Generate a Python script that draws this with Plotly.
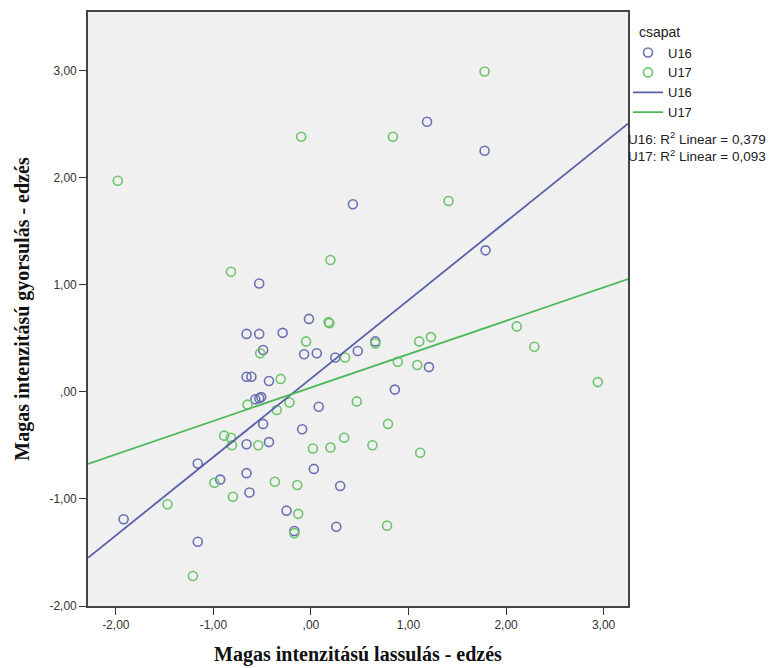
import numpy as np
import plotly.graph_objects as go

# ---- data ----
u16_x = [-0.53, -0.66, -0.53, -0.29, -0.02, -0.07, 0.06, 0.25, 0.48, -0.49,
         -0.66, -0.61, -0.43, -0.57, -0.53, -0.51, 0.08, -0.49, -0.09, -0.43,
         -0.66, -1.16, 0.03, -0.66, -0.93, 0.30, -0.63, -1.92, -0.25, -0.17,
         0.26, -1.16, 0.66, 1.21, 0.86, 0.43, 1.19, 1.78, 1.79]
u16_y = [1.01, 0.54, 0.54, 0.55, 0.68, 0.35, 0.36, 0.32, 0.38, 0.39,
         0.14, 0.14, 0.10, -0.07, -0.06, -0.05, -0.14, -0.30, -0.35, -0.47,
         -0.49, -0.67, -0.72, -0.76, -0.82, -0.88, -0.94, -1.19, -1.11, -1.30,
         -1.26, -1.40, 0.47, 0.23, 0.02, 1.75, 2.52, 2.25, 1.32]

u17_x = [0.18, 0.19, -0.05, 0.35, -0.52, -0.31, -0.65, -0.35, -0.22, 0.47,
         -0.89, -0.82, -0.81, -0.54, 0.02, 0.20, 0.34, -0.99, -0.37, -0.14,
         -0.80, -1.47, -0.13, -0.17, -1.21, 0.66, 1.11, 1.23, 0.89, 1.09,
         2.11, 2.29, 2.94, 0.79, 0.63, 1.12, 0.78, -1.98, -0.10, -0.82,
         0.20, 1.78, 0.84, 1.41]
u17_y = [0.65, 0.64, 0.47, 0.32, 0.36, 0.12, -0.12, -0.17, -0.10, -0.09,
         -0.41, -0.43, -0.50, -0.50, -0.53, -0.52, -0.43, -0.85, -0.84, -0.87,
         -0.98, -1.05, -1.14, -1.32, -1.72, 0.45, 0.47, 0.51, 0.28, 0.25,
         0.61, 0.42, 0.09, -0.30, -0.50, -0.57, -1.25, 1.97, 2.38, 1.12,
         1.23, 2.99, 2.38, 1.78]

groups = ["U16", "U17"]
legend_title = "csapat"
r2_values = ["0,379", "0,093"]
tick_vals = [-2, -1, 0, 1, 2, 3]
x_tick_text = ["-2,00", "-1,00", ",00", "1,00", "2,00", "3,00"]
y_tick_text = ["-2,00", "-1,00", ",00", "1,00", "2,00", "3,00"]

x_range = [-2.285, 3.25]
y_range = [-2.0, 3.545]

blue = "#6a70b4"
green = "#6cc46c"
blue_line = "#5860a8"
green_line = "#4cb85a"

fig = go.Figure()
for name, xs, ys, col in [(groups[0], u16_x, u16_y, blue), (groups[1], u17_x, u17_y, green)]:
    fig.add_trace(go.Scatter(
        x=xs, y=ys, mode="markers", name=name,
        marker=dict(symbol="circle-open", size=9, color=col, line=dict(width=1.6, color=col)),
    ))

for name, xs, ys, col in [(groups[0], u16_x, u16_y, blue_line), (groups[1], u17_x, u17_y, green_line)]:
    slope, intercept = np.polyfit(xs, ys, 1)
    lx = np.array(x_range)
    fig.add_trace(go.Scatter(
        x=lx, y=slope * lx + intercept, mode="lines", name=name,
        line=dict(color=col, width=1.8),
    ))

axis_common = dict(
    showgrid=False, zeroline=False, showline=True, mirror=True,
    linecolor="#444444", linewidth=1.6, ticks="outside", ticklen=7,
    tickwidth=1.4, tickcolor="#333333",
    tickfont=dict(family="Liberation Sans, Arial", size=12, color="#333333"),
    tickvals=tick_vals,
)

title_font = dict(family="Liberation Serif, Times New Roman", size=20, color="#111111", weight="bold")

fig.update_xaxes(range=x_range, ticktext=x_tick_text,
                 title=dict(text="Magas intenzitású lassulás - edzés", font=title_font, standoff=16),
                 **axis_common)
fig.update_yaxes(range=y_range, ticktext=y_tick_text,
                 title=dict(text="Magas intenzitású gyorsulás - edzés", font=title_font, standoff=14),
                 **axis_common)

fig.add_annotation(x=1.017, y=0.966, xref="paper", yref="paper", xanchor="left", yanchor="middle",
                   showarrow=False, align="left", text=legend_title,
                   font=dict(family="Liberation Sans, Arial", size=14, color="#222222"))

fig.add_annotation(x=1.0, y=0.773, xref="paper", yref="paper", xanchor="left", yanchor="middle",
                   xshift=-2, showarrow=False, align="left",
                   text="U16: R<sup>2</sup> Linear = " + r2_values[0] + "<br>U17: R<sup>2</sup> Linear = " + r2_values[1],
                   font=dict(family="Liberation Sans, Arial", size=13.5, color="#222222"))

fig.update_layout(
    width=772, height=660,
    margin=dict(l=80, r=152, t=2, b=62),
    plot_bgcolor="#f0f0f0", paper_bgcolor="white",
    legend=dict(x=1.0, y=0.957, xanchor="left", yanchor="top",
                font=dict(family="Liberation Sans, Arial", size=13, color="#222222"),
                tracegroupgap=0, itemwidth=30, bgcolor="rgba(0,0,0,0)"),
    showlegend=True,
)

fig.write_html("out.html")
